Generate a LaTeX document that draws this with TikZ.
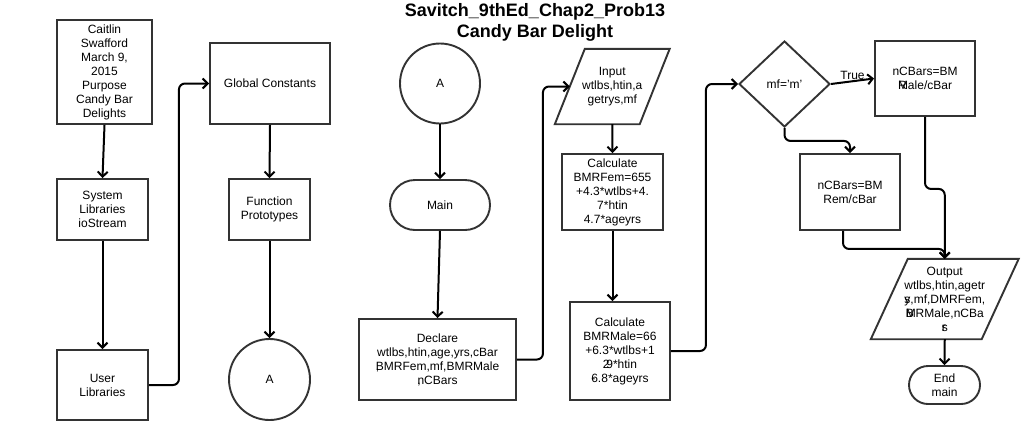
\documentclass[tikz,border=0pt]{standalone}
\usepackage{fontspec}
\setmainfont{Liberation Sans}
\usetikzlibrary{arrows.meta,shapes.geometric,shapes.misc,calc}
\definecolor{bd}{HTML}{333333}
\begin{document}
\begin{tikzpicture}[x=1pt,y=-1pt,
  every node/.style={font=\fontsize{12}{14}\selectfont, align=center, inner sep=0pt, text=black},
  box/.style={draw=bd, line width=1.9pt},
  boxline/.style={draw=bd, line width=1.9pt, line join=miter},
  conn/.style={draw=black, line width=2pt, rounded corners=6pt, -{Straight Barb[length=5pt,width=10pt]}},
  circ/.style={box, circle, minimum size=#1},
  term/.style={box, rounded rectangle},
]
\fill[white] (0,0) rectangle (1025,440);
\useasboundingbox (0,0) rectangle (1025,440);

% title
\node[font=\fontsize{18}{21}\selectfont\bfseries] (title) at (535,22) {Savitch\_9thEd\_Chap2\_Prob13\\Candy Bar Delight};

% left column
\node[box, minimum width=95, minimum height=104] (cait) at (104.5,72) {Caitlin\\Swafford\\March 9,\\2015\\Purpose\\Candy Bar\\Delights};
\node[box, minimum width=91, minimum height=61] (sys) at (102.5,209.5) {System\\Libraries\\ioStream};
\node[box, minimum width=91, minimum height=70] (user) at (102.5,385) {User\\Libraries};

% second column
\node[box, minimum width=120, minimum height=81] (glob) at (270,83.5) {Global Constants};
\node[box, minimum width=81, minimum height=61] (proto) at (269.5,209.5) {Function\\Prototypes};
\node[circ=81] (a1) at (269.5,379.5) {A};

% third column
\node[circ=80] (a2) at (440,83.5) {A};
\node[term, minimum width=100, minimum height=50] (main) at (440,205) {Main};
\node[box, minimum width=157, minimum height=81] (decl) at (437.5,359.5) {Declare\\wtlbs,htin,age,yrs,cBar\\\rlap{,}BMRFem,mf,BMRMale\\\rlap{,}nCBars};

% fourth column
\node[minimum width=84.5, minimum height=75] (inp) at (612.25,86.5) {Input\\wtlbs,htin,a\\getrys,mf};
\draw[boxline] ($(inp.north west)+(15,0)$) -- ($(inp.north east)+(15,0)$) -- ($(inp.south east)+(-15,0)$) -- ($(inp.south west)+(-15,0)$) -- cycle;
\node[box, minimum width=101, minimum height=76] (fem) at (612.5,192) {Calculate\\BMRFem=655\\+4.3*wtlbs+4.\\7*htin\\4.7*ageyrs};
\node[box, minimum width=100, minimum height=98] (male) at (620,351) {Calculate\\BMRMale=66\\+6.3*wtlbs+1\\\rlap{2}.9*htin\\\rlap{-}6.8*ageyrs};

% right part
\node[box, diamond, minimum width=91, minimum height=86] (dia) at (784.5,84) {mf='m'};
\node[box, minimum width=100, minimum height=75] (tbox) at (925,78.5) {nCBars=BM\\\rlap{R}Male/cBar};
\node[box, minimum width=100, minimum height=76] (rem) at (850,192) {nCBars=BM\\Rem/cBar};
\node[minimum width=110.5, minimum height=80] (out) at (944.75,299) {Output\\wtlbs,htin,agetr\\\rlap{y}s,mf,DMRFem,\\\rlap{B}MRMale,nCBa\\\rlap{r}s};
\draw[boxline] ($(out.north west)+(18.5,0)$) -- ($(out.north east)+(18.5,0)$) -- ($(out.south east)+(-18.5,0)$) -- ($(out.south west)+(-18.5,0)$) -- cycle;
\node[term, minimum width=71, minimum height=38] (endm) at (944.5,385) {End\\main};

% connectors
\draw[conn] (cait.south) -- (sys.north);
\draw[conn] (sys.south) -- (user.north);
\draw[conn] (user.east) -- ($(user.east)+(30,0)$) |- (glob.west);
\draw[conn] (glob.south) -- (proto.north);
\draw[conn] (proto.south) -- (a1.north);
\draw[conn] (a2.south) -- (main.north);
\draw[conn] (main.south) -- (decl.north);
\draw[conn] (decl.east) -- ($(decl.east)+(26,0)$) |- (inp.west);
\draw[conn] (inp.south) -- (fem.north);
\draw[conn] (fem.south) -- (fem.south |- male.north);
\draw[conn] (male.east) -- ($(male.east)+(35,0)$) |- (dia.west);
\draw[conn] (dia.east) -- node[above, inner sep=0.5pt] {True} (tbox.west);
\draw[conn] (dia.south) -- ($(dia.south)+(0,13)$) -| (rem.north);
\draw[conn] (tbox.south) -- ($(tbox.south)+(0,72)$) -| (out.north);
\draw[conn] ($(rem.south)+(-7,0)$) -- ($(rem.south)+(-7,18)$) -| (out.north);
\draw[conn] (out.south) -- (endm.north);
\end{tikzpicture}
\end{document}
